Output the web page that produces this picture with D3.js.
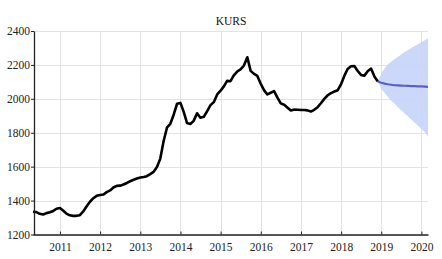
<!DOCTYPE html>
<html>
<head>
<meta charset="utf-8">
<script src="https://cdn.jsdelivr.net/npm/d3@7"></script>
<style>
  html, body { margin: 0; padding: 0; background: #fff; }
  svg { display: block; }
  svg text { font-family: "Liberation Serif", "DejaVu Serif", serif; }
</style>
</head>
<body>
<div class="container"></div>
<script>
const WIDTH = 442
const HEIGHT = 259

// monthly history, first point May 2010
const histStart = '2010-05'
const histValues = [
  1334, 1332, 1322, 1318, 1326, 1331, 1339, 1352, 1356, 1340, 1323, 1313,
  1310, 1310, 1314, 1336, 1367, 1393, 1414, 1428, 1433, 1436, 1450, 1460,
  1477, 1487, 1488, 1495, 1504, 1514, 1523, 1530, 1536, 1539, 1544, 1556,
  1569, 1598, 1646, 1751, 1832, 1853, 1908, 1971, 1976, 1920, 1858, 1852,
  1870, 1915, 1889, 1894, 1928, 1963, 1981, 2026, 2048, 2075, 2106, 2104,
  2138, 2161, 2174, 2196, 2245, 2165, 2147, 2135, 2089, 2050, 2026, 2036,
  2046, 2007, 1973, 1965, 1948, 1931, 1937, 1936, 1934, 1934, 1932, 1925,
  1935, 1951, 1974, 2000, 2021, 2034, 2043, 2051, 2087, 2138, 2176, 2192,
  2194, 2164, 2141, 2137, 2164, 2178, 2130, 2102
]

// forecast, first point Dec 2018 (joins the history)
const fcStart = '2018-12'
const fcMean = [2102, 2095, 2090, 2086, 2083, 2080, 2079, 2078, 2077, 2076, 2075, 2075, 2074, 2073, 2072, 2071]
const fcUpper = [2102, 2150, 2180, 2202, 2218, 2233, 2247, 2262, 2276, 2288, 2300, 2312, 2322, 2333, 2345, 2357]
const fcLower = [2102, 2060, 2035, 2012, 1990, 1972, 1952, 1933, 1914, 1896, 1878, 1860, 1842, 1824, 1805, 1777]

const yTicks = [1200, 1400, 1600, 1800, 2000, 2200, 2400]
const xTickYears = [2011, 2012, 2013, 2014, 2015, 2016, 2017, 2018, 2019, 2020]

const parseMonth = d3.timeParse('%Y-%m')
const monthSeries = (start, values) => values.map((v, i) => ({ date: d3.timeMonth.offset(parseMonth(start), i), value: v }))

const hist = monthSeries(histStart, histValues)
const fc = fcMean.map((v, i) => ({
  date: d3.timeMonth.offset(parseMonth(fcStart), i),
  value: v,
  lo: fcLower[i],
  hi: fcUpper[i]
}))

const margin = { top: 31, right: 14, bottom: 24.5, left: 34 }

const x = d3.scaleTime()
  .domain([hist[0].date, fc[fc.length - 1].date])
  .range([margin.left - 1, WIDTH - margin.right])

const y = d3.scaleLinear()
  .domain([1200, 2400])
  .range([HEIGHT - margin.bottom, margin.top])

const svg = d3.select('.container').append('svg')
  .attr('width', WIDTH)
  .attr('height', HEIGHT)
  .attr('viewBox', `0 0 ${WIDTH} ${HEIGHT}`)

// grid
svg.append('g')
  .attr('stroke', '#e3e3e3')
  .attr('stroke-width', 1)
  .call(g => g.selectAll('line.h')
    .data(yTicks)
    .join('line')
      .attr('class', 'h')
      .attr('x1', margin.left)
      .attr('x2', WIDTH - margin.right)
      .attr('y1', d => Math.round(y(d)) + 0.5)
      .attr('y2', d => Math.round(y(d)) + 0.5))
  .call(g => g.selectAll('line.v')
    .data(xTickYears)
    .join('line')
      .attr('class', 'v')
      .attr('x1', d => Math.round(x(new Date(d, 0, 1))) + 0.5)
      .attr('x2', d => Math.round(x(new Date(d, 0, 1))) + 0.5)
      .attr('y1', margin.top)
      .attr('y2', HEIGHT - margin.bottom))

// forecast band
svg.append('path')
  .datum(fc)
  .attr('fill', '#c6d4fa')
  .attr('fill-opacity', 0.9)
  .attr('d', d3.area()
    .x(d => x(d.date))
    .y0(d => y(d.lo))
    .y1(d => y(d.hi)))

// history line
svg.append('path')
  .datum(hist)
  .attr('fill', 'none')
  .attr('stroke', '#000')
  .attr('stroke-width', 2.6)
  .attr('stroke-linejoin', 'round')
  .attr('d', d3.line()
    .x(d => x(d.date))
    .y(d => y(d.value)))

// forecast mean
svg.append('path')
  .datum(fc)
  .attr('fill', 'none')
  .attr('stroke', '#5a60c8')
  .attr('stroke-width', 2.2)
  .attr('d', d3.line()
    .x(d => x(d.date))
    .y(d => y(d.value)))

// axes
const xAxis = d3.axisBottom(x)
  .tickValues(xTickYears.map(d => new Date(d, 0, 1)))
  .tickFormat(d3.timeFormat('%Y'))
  .tickSizeInner(-3)
  .tickSizeOuter(0)
  .tickPadding(8)

const yAxis = d3.axisLeft(y)
  .tickValues(yTicks)
  .tickFormat(d3.format('d'))
  .tickSizeInner(3)
  .tickSizeOuter(0)
  .tickPadding(1)

const styleAxis = g => g
  .attr('font-family', null)
  .attr('font-size', null)
  .call(g => g.select('.domain').attr('stroke', '#222').attr('stroke-width', 1.3))
  .call(g => g.selectAll('.tick line').attr('stroke', '#222'))
  .call(g => g.selectAll('.tick text')
    .style('font-family', '"Liberation Serif", "DejaVu Serif", serif')
    .style('font-size', '11.5px')
    .attr('fill', '#222'))

svg.append('g')
  .attr('transform', `translate(0,${HEIGHT - margin.bottom})`)
  .call(xAxis)
  .call(styleAxis)

svg.append('g')
  .attr('transform', `translate(${margin.left},0)`)
  .call(yAxis)
  .call(styleAxis)

// title
svg.append('text')
  .attr('x', (margin.left + WIDTH - margin.right) / 2)
  .attr('y', 25)
  .attr('text-anchor', 'middle')
  .style('font-size', '11.5px')
  .attr('fill', '#111')
  .text('KURS')
</script>
</body>
</html>
